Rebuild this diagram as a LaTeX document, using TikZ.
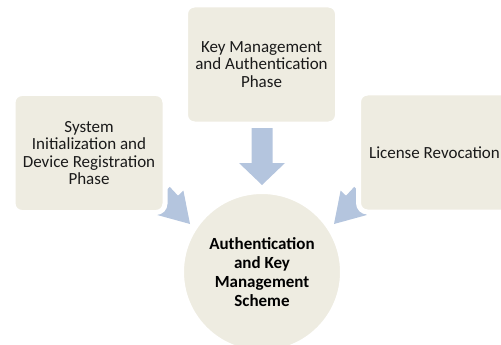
\documentclass[tikz,border=0pt]{standalone}
\usepackage{fontspec}
\setmainfont{Carlito}
\definecolor{boxfill}{HTML}{EEECE1}
\definecolor{arrowfill}{HTML}{B4C5DE}
\definecolor{txt}{HTML}{1A1A1A}
\begin{document}
\begin{tikzpicture}[x=1pt,y=-1pt,
  phasebox/.style={rectangle, rounded corners=9pt, fill=boxfill, draw=white, line width=5pt,
    minimum width=152pt, minimum height=119pt, align=center, text=txt, inner sep=0pt,
    font=\fontsize{17}{17.5}\selectfont},
  hubcircle/.style={circle, fill=boxfill, draw=white, line width=3pt, minimum size=159pt,
    align=center, inner sep=0pt, text=black, font=\bfseries\fontsize{17}{19}\selectfont},
  blockarrow/.style={fill=arrowfill, draw=none}]
\useasboundingbox (0,0) rectangle (501,345);
\clip (0,0) rectangle (501,345);
% block arrows (drawn first, partly hidden behind the boxes)
\fill[blockarrow] (262,185) -- (285,163) -- (272.5,163) -- (272.5,128) -- (251.5,128) -- (251.5,163) -- (239,163) -- cycle;
\fill[blockarrow] (190,224) -- (183.4,190.6) -- (178,195.7) -- (169.8,186.9) -- (154.4,201.1) -- (162.6,209.9) -- (157.2,215) -- cycle;
\fill[blockarrow] (334,224) -- (340.6,190.6) -- (346,195.7) -- (354.2,186.9) -- (369.6,201.1) -- (361.4,209.9) -- (366.8,215) -- cycle;
% boxes
\node[phasebox] (reg) at (89,153) {System\\Initialization and\\Device Registration\\Phase};
\node[phasebox] (kma) at (261.5,64.5) {Key Management\\and Authentication\\Phase};
\node[phasebox] (rev) at (434.5,152.5) {License Revocation};
\node[hubcircle] (hub) at (262,272) {Authentication\\and Key\\Management\\Scheme};
\end{tikzpicture}
\end{document}
